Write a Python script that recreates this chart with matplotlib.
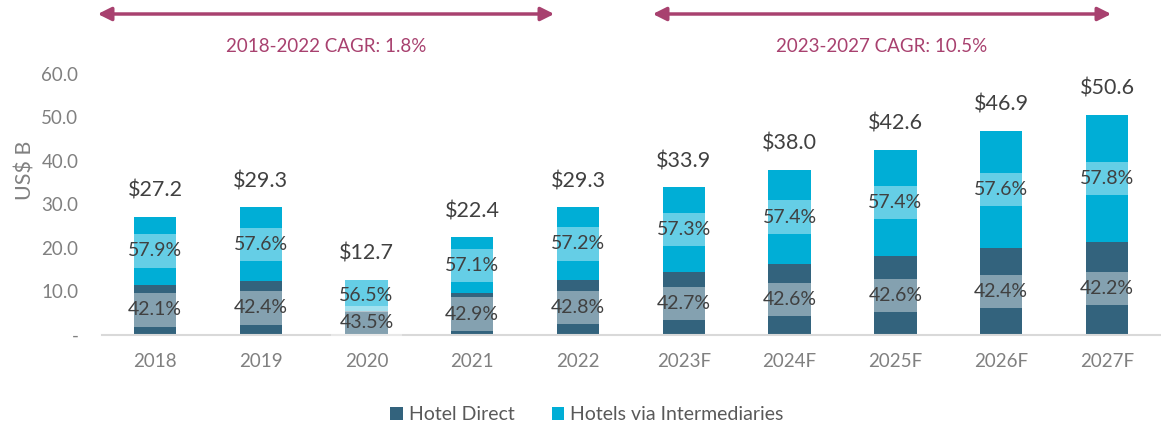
import matplotlib
matplotlib.use("Agg")
import matplotlib.pyplot as plt
import numpy as np

plt.rcParams['font.family'] = ['Lato', 'DejaVu Sans']

years = ['2018', '2019', '2020', '2021', '2022', '2023F', '2024F', '2025F', '2026F', '2027F']
totals = [27.2, 29.3, 12.7, 22.4, 29.3, 33.9, 38.0, 42.6, 46.9, 50.6]
direct_pct = [42.1, 42.4, 43.5, 42.9, 42.8, 42.7, 42.6, 42.6, 42.4, 42.2]
interm_pct = [57.9, 57.6, 56.5, 57.1, 57.2, 57.3, 57.4, 57.4, 57.6, 57.8]
cagr_labels = ['2018-2022 CAGR: 1.8%', '2023-2027 CAGR: 10.5%']

c_direct = '#33637D'
c_interm = '#00AED6'
c_accent = '#A8416F'
c_gray = '#808080'

totals = np.array(totals)
direct = totals * np.array(direct_pct) / 100
interm = totals * np.array(interm_pct) / 100
x = np.arange(len(years))

fig = plt.figure(figsize=(11.61, 4.25), dpi=100)
ax = fig.add_axes([0.0879, 0.212, 0.9111, 0.614])

b1 = ax.bar(x, direct, width=0.4, color=c_direct, label='Hotel Direct')
b2 = ax.bar(x, interm, width=0.4, bottom=direct, color=c_interm, label='Hotels via Intermediaries')

# share labels with a light band clipped to the bar
for bars, vals, base, pcts in [(b1, direct, np.zeros_like(direct), direct_pct),
                               (b2, interm, direct, interm_pct)]:
    for rect, v, b, p, xi in zip(bars, vals, base, pcts, x):
        t = ax.text(xi, b + v / 2, f'{p:.1f}%', ha='center', va='center',
                    fontsize=14, color='#404040',
                    bbox=dict(boxstyle='square,pad=0.42', fc='white', ec='none', alpha=0.4))
        t.get_bbox_patch().set_clip_path(rect)

for xi, tot in zip(x, totals):
    ax.annotate(f'${tot:.1f}', (xi, tot), xytext=(0, 19), textcoords='offset points',
                ha='center', va='center', fontsize=15.5, color='#404040')

ax.set_xlim(-0.5, 9.5)
ax.set_ylim(0, 60)
ax.set_xticks(x)
ax.set_xticklabels(years)
ax.set_yticks(np.arange(0, 61, 10))
ax.set_yticklabels(['-'] + [f'{v:.1f}' for v in range(10, 61, 10)])
ax.tick_params(axis='both', length=0, labelsize=13.5, labelcolor=c_gray)
ax.tick_params(axis='y', pad=17)
ax.tick_params(axis='x', pad=13)
for s in ['top', 'right', 'left']:
    ax.spines[s].set_visible(False)
ax.spines['bottom'].set_color('#D9D9D9')
ax.spines['bottom'].set_linewidth(1.5)
ax.set_ylabel('US$ B', fontsize=15.5, color=c_gray)
ax.yaxis.set_label_coords(-0.063, 0.63)

# CAGR arrows
arrow_spans = [(95, 557), (650, 1114)]
for (x0, x1), lab in zip(arrow_spans, cagr_labels):
    fig.patches.append(matplotlib.patches.FancyArrowPatch(
        (x0 / 1161, 1 - 14 / 425), (x1 / 1161, 1 - 14 / 425),
        transform=fig.transFigure, arrowstyle='<|-|>', mutation_scale=20,
        color=c_accent, lw=2.5))
    fig.text((x0 + x1) / 2 / 1161, 1 - 47 / 425, lab, ha='center', va='center',
             fontsize=13.5, color=c_accent)

fig.legend(handles=[b1, b2], loc='center', bbox_to_anchor=(587 / 1161, 1 - 415 / 425),
           ncol=2, frameon=False, fontsize=14, labelcolor='#595959',
           handlelength=0.65, handleheight=0.65, handletextpad=0.3, columnspacing=1.9)

fig.savefig('out.png', dpi=100)
